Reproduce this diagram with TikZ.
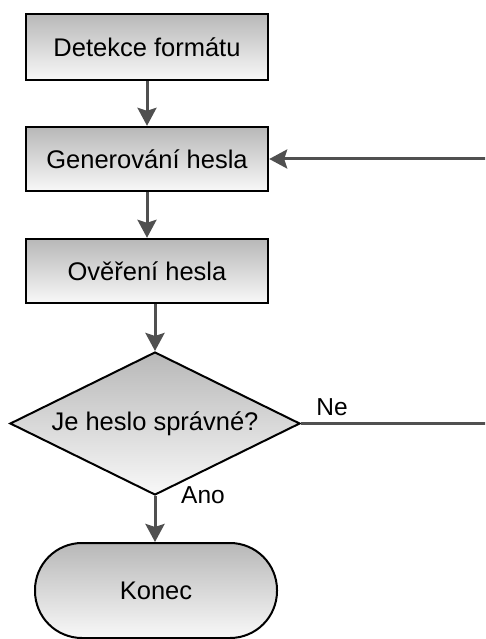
\documentclass[tikz,border=0pt]{standalone}
\usepackage{fontspec}
\setmainfont{Liberation Sans}
\usetikzlibrary{shapes.geometric,arrows.meta}
\definecolor{shadetop}{RGB}{184,184,184}
\definecolor{shadebot}{RGB}{248,248,248}
\definecolor{arrowgray}{RGB}{80,80,80}
\tikzset{
  stepbox/.style={draw=black, line width=2.4pt, top color=shadetop, bottom color=shadebot,
    minimum width=242pt, inner sep=0pt, font=\fontsize{25.5}{28}\selectfont, text=black},
  decision/.style={diamond, draw=black, line width=2pt, top color=shadetop, bottom color=shadebot,
    minimum width=290pt, minimum height=143pt, aspect=2.03, inner sep=0pt,
    font=\fontsize{25.5}{28}\selectfont, text=black},
  terminal/.style={draw=black, line width=2pt, top color=shadetop, bottom color=shadebot,
    minimum width=242pt, minimum height=95pt, rounded corners=47pt, inner sep=0pt,
    font=\fontsize{25.5}{28}\selectfont, text=black},
  flow/.style={draw=arrowgray, line width=3pt,
    -{Stealth[length=18pt,width=19pt,inset=3pt]}},
  plainflow/.style={draw=arrowgray, line width=3pt},
  lbl/.style={font=\fontsize{24.5}{28}\selectfont, text=black, inner sep=0pt}
}
\begin{document}
\begin{tikzpicture}[x=1pt,y=-1pt]
  \useasboundingbox (0,0) rectangle (485,639);
  \clip (0,0) rectangle (485,639);

  % process steps
  \node[stepbox, minimum height=66pt] (detect) at (147,47) {Detekce formátu};
  \node[stepbox, minimum height=64pt] (gen) at (147,159) {Generování hesla};
  \node[stepbox, minimum height=64pt] (verify) at (147,271) {Ověření hesla};

  % decision and end
  \node[decision] (check) at (155,423.5) {Je heslo správné?};
  \node[terminal] (end) at (156,590.5) {Konec};

  % return path runs off the right side
  \coordinate (backlow) at (493,423.5);
  \coordinate (backhigh) at (493,159);

  % connectors
  \draw[flow] (detect) -- (gen);
  \draw[flow] (gen) -- (verify);
  \draw[flow] (verify.south -| check.north) -- (check.north);
  \draw[flow] (check.south) -- (check.south |- end.north);
  \draw[plainflow] (check.east) -- (backlow) -- (backhigh);
  \draw[flow] (backhigh) -- (gen.east);

  % branch labels
  \node[lbl] (no) at (332,407) {Ne};
  \node[lbl] (yes) at (203,495) {Ano};
\end{tikzpicture}
\end{document}
